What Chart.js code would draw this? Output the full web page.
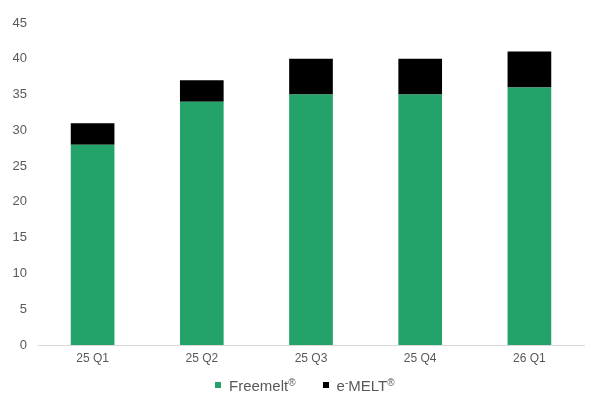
<!DOCTYPE html>
<html>
<head>
<meta charset="utf-8">
<script src="https://cdn.jsdelivr.net/npm/chart.js@4"></script>
<style>
  html, body { margin: 0; padding: 0; background: #ffffff; }
  #wrap { width: 598px; height: 394px; position: relative; }
  #legend {
    position: absolute; left: 215px; top: 376px; height: 18px;
    display: flex; align-items: center;
    font-family: "Liberation Sans", Arial, sans-serif; font-size: 15px; color: #595959;
  }
  #legend .item { display: flex; align-items: center; margin-right: 27px; white-space: nowrap; }
  #legend .box { width: 6px; height: 6px; margin-right: 8px; }
  #legend sup { font-size: 10px; vertical-align: 5px; }
</style>
</head>
<body>
<div id="wrap"><canvas id="chart"></canvas><div id="legend"></div></div>
<script>
// Quarterly volumes, stacked by product line
const quarters = ['25 Q1', '25 Q2', '25 Q3', '25 Q4', '26 Q1'];
const freemelt = [28, 34, 35, 35, 36];
const emelt = [3, 3, 5, 5, 5];
const yTicks = [0, 5, 10, 15, 20, 25, 30, 35, 40, 45];

const FONT = '"Liberation Sans", Arial, sans-serif';
const TEXT = '#595959';

// HTML legend built from the chart's own legend items
const htmlLegend = {
  id: 'htmlLegend',
  afterUpdate(chart) {
    const el = document.getElementById('legend');
    el.innerHTML = '';
    const items = chart.options.plugins.legend.labels.generateLabels(chart);
    items.forEach(it => {
      const item = document.createElement('span');
      item.className = 'item';
      const box = document.createElement('span');
      box.className = 'box';
      box.style.background = it.fillStyle;
      const txt = document.createElement('span');
      // raised marks (⁻, ®) are set as superscripts
      txt.innerHTML = it.text
        .replace(/⁻/g, '<sup>-</sup>')
        .replace(/®/g, '<sup>®</sup>');
      item.appendChild(box);
      item.appendChild(txt);
      el.appendChild(item);
    });
  }
};

new Chart(document.getElementById('chart'), {
  type: 'bar',
  data: {
    labels: quarters,
    datasets: [
      { label: 'Freemelt®', data: freemelt, backgroundColor: '#23a26a', borderWidth: 0 },
      { label: 'e⁻MELT®', data: emelt, backgroundColor: '#000000', borderWidth: 0 }
    ]
  },
  plugins: [htmlLegend],
  options: {
    responsive: true,
    maintainAspectRatio: false,
    animation: false,
    datasets: { bar: { categoryPercentage: 1.0, barPercentage: 0.4 } },
    layout: { padding: { top: 23, right: 14, bottom: 28, left: 0 } },
    plugins: {
      tooltip: { enabled: false },
      legend: { display: false }
    },
    scales: {
      x: {
        stacked: true,
        afterFit: (axis) => { axis.height = 21; },
        grid: { display: false, drawTicks: false },
        border: { display: true, color: '#d9d9d9', width: 1 },
        ticks: { color: TEXT, font: { family: FONT, size: 12 }, padding: 6 }
      },
      y: {
        stacked: true,
        min: 0,
        max: 45,
        afterBuildTicks: (axis) => { axis.ticks = yTicks.map(v => ({ value: v })); },
        afterFit: (axis) => { axis.width = 38; },
        grid: { display: false, drawTicks: false },
        border: { display: false },
        ticks: { color: TEXT, font: { family: FONT, size: 13 }, padding: 11 }
      }
    }
  }
});
</script>
</body>
</html>
